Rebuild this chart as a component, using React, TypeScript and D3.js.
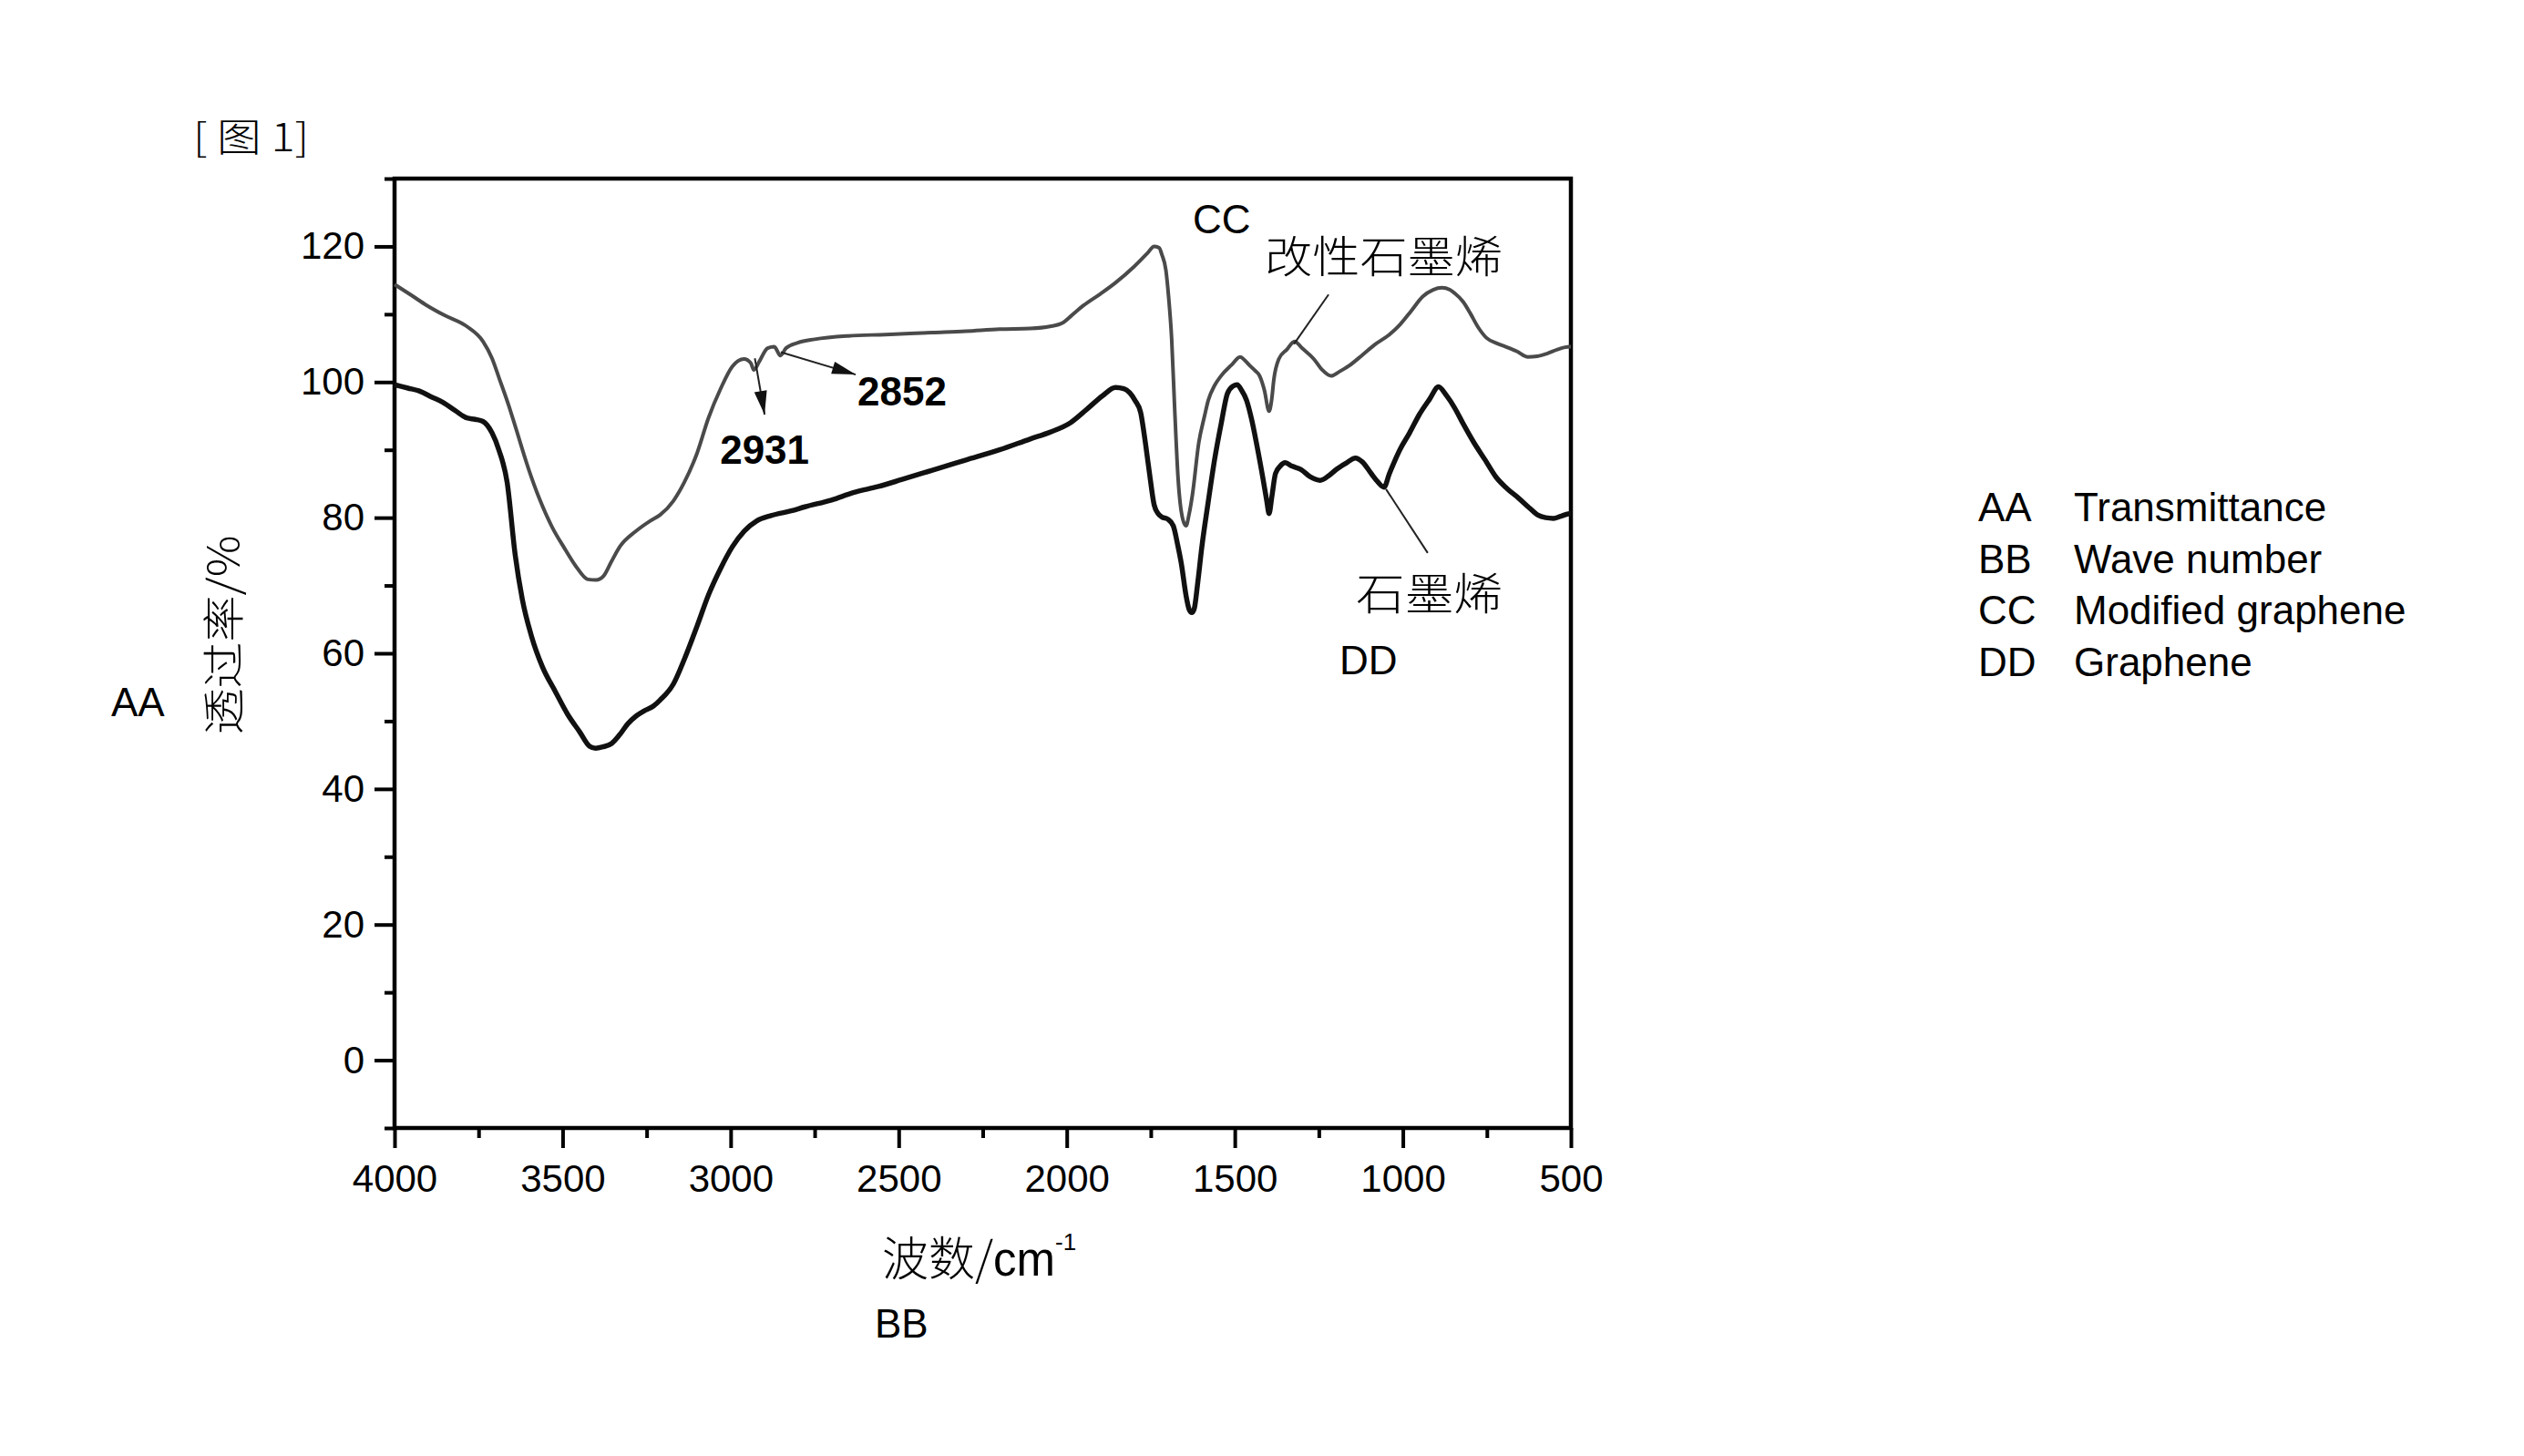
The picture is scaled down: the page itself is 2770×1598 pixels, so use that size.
import React, { useEffect, useRef } from "react";
import * as d3 from "d3";

// [wavenumber (cm-1), transmittance (%)]
const modifiedGraphene: [number, number][] = [
  [4000, 114.4], [3950, 112.8], [3904, 111.3], [3850, 109.8], [3785, 108.2], [3737, 106], [3710, 103.5],
  [3689, 100.6], [3660, 96.5], [3641, 93.5], [3600, 87], [3569, 82.8], [3530, 78.5], [3497, 75.7],
  [3460, 72.8], [3425, 70.9], [3400, 70.8], [3378, 71.4], [3355, 73.5], [3330, 75.7], [3282, 78],
  [3240, 79.5], [3210, 80.4], [3170, 82.5], [3138, 85.2], [3100, 89.5], [3066, 94.7], [3030, 99],
  [2995, 102.3], [2960, 103.4], [2940, 102.8], [2931, 101.8], [2915, 103], [2890, 105], [2870, 105.2],
  [2852, 103.9], [2835, 105], [2800, 105.8], [2750, 106.3], [2650, 106.8], [2540, 107], [2400, 107.3],
  [2300, 107.5], [2200, 107.8], [2109, 107.9], [2050, 108.2], [2013, 108.7], [1986, 109.8], [1950, 111.3],
  [1900, 113], [1856, 114.6], [1800, 117], [1760, 119], [1740, 120], [1725, 119.8], [1717, 118.8],
  [1705, 116.5], [1697, 112.6], [1688, 106.5], [1679, 96.2], [1669, 86], [1655, 79.8], [1645, 78.8],
  [1636, 80.5], [1626, 83.4], [1607, 91.1], [1590, 95], [1579, 97.3], [1560, 99.5], [1541, 100.9],
  [1510, 102.5], [1484, 103.7], [1470, 103.2], [1455, 102.4], [1440, 101.7], [1426, 100.9], [1412, 98.8],
  [1398, 95.7], [1390, 97.5], [1384, 100.3], [1369, 103.4], [1345, 104.8], [1322, 106], [1300, 105],
  [1265, 103.4], [1240, 101.8], [1213, 100.9], [1190, 101.5], [1160, 102.4], [1120, 104], [1084, 105.5],
  [1040, 107], [1008, 108.5], [975, 110.5], [941, 112.6], [910, 113.6], [884, 113.9], [860, 113.6],
  [846, 113.1], [820, 111.8], [799, 110.1], [775, 108], [751, 106.5], [720, 105.7], [694, 105.2],
  [660, 104.5], [628, 103.7], [600, 103.8], [571, 104.2], [540, 104.8], [504, 105.2], [500, 105.2],
];

const graphene: [number, number][] = [
  [4000, 99.6], [3960, 99.1], [3928, 98.7], [3890, 97.8], [3856, 97], [3820, 95.8], [3785, 94.7],
  [3760, 94.5], [3737, 94.2], [3710, 92.5], [3689, 89.9], [3665, 85.2], [3641, 74.5], [3620, 68],
  [3593, 62.6], [3560, 58], [3521, 54.3], [3485, 51], [3449, 48.4], [3420, 46.3], [3402, 46],
  [3380, 46.2], [3354, 46.7], [3330, 48], [3306, 49.6], [3280, 50.8], [3258, 51.5], [3230, 52.2],
  [3210, 53.1], [3170, 55.5], [3138, 59.1], [3100, 64], [3066, 68.6], [3030, 72.5], [2995, 75.7],
  [2960, 78], [2923, 79.5], [2880, 80.3], [2820, 81], [2779, 81.6], [2700, 82.6], [2635, 83.7],
  [2560, 84.6], [2492, 85.6], [2400, 87], [2300, 88.5], [2200, 90], [2109, 91.6], [2050, 92.6],
  [1989, 94], [1940, 96], [1893, 98], [1855, 99.2], [1830, 99], [1797, 97.3], [1780, 95.5],
  [1769, 92.1], [1755, 87], [1740, 81.9], [1728, 80.6], [1717, 80.1], [1700, 79.8], [1683, 78.8],
  [1670, 76], [1659, 73.2], [1645, 68.5], [1636, 66.5], [1628, 66], [1621, 66.5], [1610, 70.5],
  [1598, 75.7], [1580, 82], [1560, 88.6], [1540, 94], [1522, 98.3], [1505, 99.4], [1493, 99.6],
  [1480, 98.8], [1465, 97.3], [1450, 94.5], [1436, 91.1], [1417, 86], [1405, 82.5], [1398, 80.6],
  [1390, 83], [1379, 86.5], [1365, 87.6], [1350, 88.1], [1330, 87.6], [1303, 87.1], [1275, 86],
  [1246, 85.5], [1220, 86.2], [1198, 87.1], [1170, 88], [1141, 88.8], [1120, 88.2], [1094, 86.5],
  [1075, 85.3], [1056, 84.5], [1040, 86.5], [1008, 90.1], [980, 92.5], [951, 95.2], [920, 97.5],
  [894, 99.3], [870, 98], [846, 96.2], [820, 93.8], [789, 91.1], [755, 88.5], [723, 86],
  [690, 84.3], [656, 82.9], [625, 81.5], [599, 80.4], [575, 80], [552, 79.9], [530, 80.2],
  [504, 80.6], [500, 80.6],
];

const xTicks = [4000, 3500, 3000, 2500, 2000, 1500, 1000, 500];
const xMinorTicks = [3750, 3250, 2750, 2250, 1750, 1250, 750];
const yTicks = [0, 20, 40, 60, 80, 100, 120];
const yMinorTicks = [-10, 10, 30, 50, 70, 90, 110, 130];

const legendKeys = ["AA", "BB", "CC", "DD"];
const legendLabels = ["Transmittance", "Wave number", "Modified graphene", "Graphene"];

// peak arrows, in data units: from -> to, label
const peakArrows = [
  { from: [2928, 103.5], to: [2899, 95.2], label: "2931", at: [2899, 87.9] },
  { from: [2851, 104.4], to: [2628, 101.1], label: "2852", at: [2490, 96.5] },
];
// leader lines from curve label to curve
const leaders = [
  [[1221, 112.9], [1324, 105.6]],
  [[1050, 84.2], [926, 74.8]],
];

const W = 2770;
const H = 1598;
const sans = "'Liberation Sans', Arial, sans-serif";
const cjk = "'Noto Sans CJK SC', serif";

const App = () => {
  const xAxisRef = useRef<SVGGElement>(null);
  const yAxisRef = useRef<SVGGElement>(null);

  const x = d3.scaleLinear().domain([4000, 500]).range([433, 1724]);
  const y = d3.scaleLinear().domain([-10, 130]).range([1238, 196]);

  const line = d3
    .line<[number, number]>()
    .x((d) => x(d[0]))
    .y((d) => y(d[1]))
    .curve(d3.curveMonotoneX);

  useEffect(() => {
    const gx = d3.select(xAxisRef.current);
    gx.selectAll("*").remove();
    gx.append("g")
      .call(d3.axisBottom(x).tickValues(xMinorTicks).tickSize(11).tickFormat(() => ""))
      .call((g) => g.select(".domain").remove());
    gx.append("g")
      .call(d3.axisBottom(x).tickValues(xTicks).tickSize(22).tickPadding(18).tickFormat(d3.format("d")))
      .call((g) => g.select(".domain").remove());
    gx.selectAll("line").attr("stroke", "#000").attr("stroke-width", 4);
    gx.selectAll("text").attr("font-size", 42).attr("font-family", sans).attr("fill", "#000");

    const gy = d3.select(yAxisRef.current);
    gy.selectAll("*").remove();
    gy.append("g")
      .call(d3.axisLeft(y).tickValues(yMinorTicks).tickSize(11).tickFormat(() => ""))
      .call((g) => g.select(".domain").remove());
    gy.append("g")
      .call(d3.axisLeft(y).tickValues(yTicks).tickSize(22).tickPadding(11).tickFormat(d3.format("d")))
      .call((g) => g.select(".domain").remove());
    gy.selectAll("line").attr("stroke", "#000").attr("stroke-width", 4);
    gy.selectAll("text").attr("font-size", 42).attr("font-family", sans).attr("fill", "#000");
  }, []);

  const arrowHead = (fx: number, fy: number, tx: number, ty: number) => {
    const a = Math.atan2(ty - fy, tx - fx);
    const len = 26;
    const hw = 7;
    const bx = tx - len * Math.cos(a);
    const by = ty - len * Math.sin(a);
    const px = -Math.sin(a) * hw;
    const py = Math.cos(a) * hw;
    return `${tx},${ty} ${bx + px},${by + py} ${bx - px},${by - py}`;
  };

  return (
    <svg
      width={W}
      height={H}
      style={{ position: "absolute", left: 0, top: 0, background: "#fff", display: "block" }}
    >
      <rect x={0} y={0} width={W} height={H} fill="#fff" />
      <text x={212} y={166} fontSize={42} fontFamily={cjk} fontWeight={300} textLength={127} lengthAdjust="spacingAndGlyphs">
        [ 图 1]
      </text>

      <g transform="translate(0,1238)" ref={xAxisRef} />
      <g transform="translate(433,0)" ref={yAxisRef} />

      <rect x={433} y={196} width={1724 - 433} height={1238 - 196} fill="none" stroke="#000" strokeWidth={4.5} />

      <path d={line(modifiedGraphene) || ""} fill="none" stroke="#4a4a4a" strokeWidth={4} />
      <path d={line(graphene) || ""} fill="none" stroke="#111" strokeWidth={5.5} />

      {peakArrows.map((p) => {
        const fx = x(p.from[0]);
        const fy = y(p.from[1]);
        const tx = x(p.to[0]);
        const ty = y(p.to[1]);
        return (
          <g key={p.label}>
            <line x1={fx} y1={fy} x2={tx} y2={ty} stroke="#222" strokeWidth={2} />
            <polygon points={arrowHead(fx, fy, tx, ty)} fill="#111" />
            <text
              x={x(p.at[0])}
              y={y(p.at[1])}
              textAnchor="middle"
              fontSize={44}
              fontWeight="bold"
              fontFamily={sans}
            >
              {p.label}
            </text>
          </g>
        );
      })}

      {leaders.map((l, i) => (
        <line key={i} x1={x(l[0][0])} y1={y(l[0][1])} x2={x(l[1][0])} y2={y(l[1][1])} stroke="#222" strokeWidth={2} />
      ))}

      <text x={1309} y={256} fontSize={44} fontFamily={sans}>CC</text>
      <text x={1388} y={299} fontSize={48} fontFamily={cjk} fontWeight={300} textLength={261} lengthAdjust="spacingAndGlyphs">
        改性石墨烯
      </text>
      <text x={1488} y={669} fontSize={48} fontFamily={cjk} fontWeight={300} textLength={161} lengthAdjust="spacingAndGlyphs">
        石墨烯
      </text>
      <text x={1470} y={740} fontSize={44} fontFamily={sans}>DD</text>

      <text x={122} y={786} fontSize={44} fontFamily={sans}>AA</text>
      <text
        transform="translate(262,697) rotate(-90)"
        textAnchor="middle"
        fontSize={46}
        fontFamily={cjk}
        fontWeight={300}
        textLength={219}
        lengthAdjust="spacingAndGlyphs"
      >
        透过率/%
      </text>

      <text x={968} y={1400} fontSize={51} fontFamily={cjk} fontWeight={300}>
        波数/
        <tspan fontFamily={sans}>cm</tspan>
        <tspan fontFamily={sans} fontSize={26} dy={-28}>-1</tspan>
      </text>
      <text x={960} y={1468} fontSize={44} fontFamily={sans}>BB</text>

      {legendKeys.map((k, i) => (
        <g key={k} transform={`translate(2171,${572 + i * 56.5})`}>
          <text x={0} y={0} fontSize={44} fontFamily={sans}>{k}</text>
          <text x={105} y={0} fontSize={44} fontFamily={sans}>{legendLabels[i]}</text>
        </g>
      ))}
    </svg>
  );
};

export default App;
